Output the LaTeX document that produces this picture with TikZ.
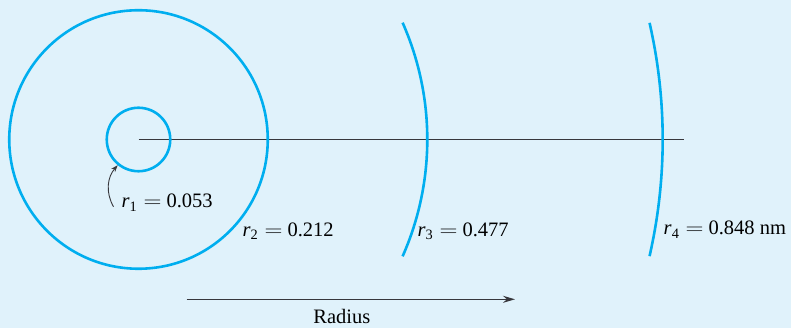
\documentclass[tikz,border=0pt]{standalone}
\usepackage{fontspec}
\setmainfont{Liberation Serif}
\usetikzlibrary{positioning,arrows.meta}
\definecolor{PanelBlue}{RGB}{224,242,251}
\definecolor{OrbitCyan}{RGB}{0,174,239}
\definecolor{AxisGray}{RGB}{55,55,60}
\newcommand{\rlab}[2]{\textit{r}\textsubscript{#1}\hspace{0.3em}\scalebox{1.2}[1]{$=$}\hspace{0.25em}#2}

\begin{document}
\begin{tikzpicture}[x=1pt, y=1pt, font=\fontsize{20.5}{24}\selectfont,
    every node/.style={inner sep=0pt},
    orbit/.style={draw=OrbitCyan, line width=2.6pt}]
  \fill[PanelBlue] (0,0) rectangle (791,328);
  \coordinate (nucleus) at (138.5,188.5);
  \coordinate (axisend) at (684,188.5);
  \draw[AxisGray, line width=1.6pt] (nucleus) -- (axisend);
  \node[orbit, circle, minimum size=63.5pt] (orb1) at (nucleus) {};
  \node[orbit, circle, minimum size=258.5pt] (orb2) at (nucleus) {};
  \draw[orbit] (nucleus) ++(-23.86:288.8) arc[start angle=-23.86, end angle=23.86, radius=288.8pt];
  \draw[orbit] (nucleus) ++(-12.86:524.2) arc[start angle=-12.86, end angle=12.86, radius=524.2pt];
  \node[anchor=base west] (lab1) at (121.5,120) {\rlab{1}{0.053}};
  \node[anchor=base west] (lab2) at (242.5,91.5) {\rlab{2}{0.212}};
  \node[anchor=base west] (lab3) at (417.5,91.5) {\rlab{3}{0.477}};
  \node[anchor=base west] (lab4) at (663.5,93) {\rlab{4}{0.848 nm}};
  \draw[-{Stealth[length=7pt, width=5pt]}, line width=0.9pt, AxisGray]
    ([shift={(-8pt,-4pt)}]lab1.west) to[bend left=35] (orb1.231);
  \coordinate (radfrom) at (186.7,28.7);
  \coordinate (radto) at (515,28.7);
  \draw[-{Stealth[length=12pt, width=7pt]}, line width=1.4pt, AxisGray]
    (radfrom) -- coordinate[midway] (radmid) (radto);
  \node[below=10pt of radmid, xshift=-9pt] (radlab) {Radius};
\end{tikzpicture}
\end{document}
